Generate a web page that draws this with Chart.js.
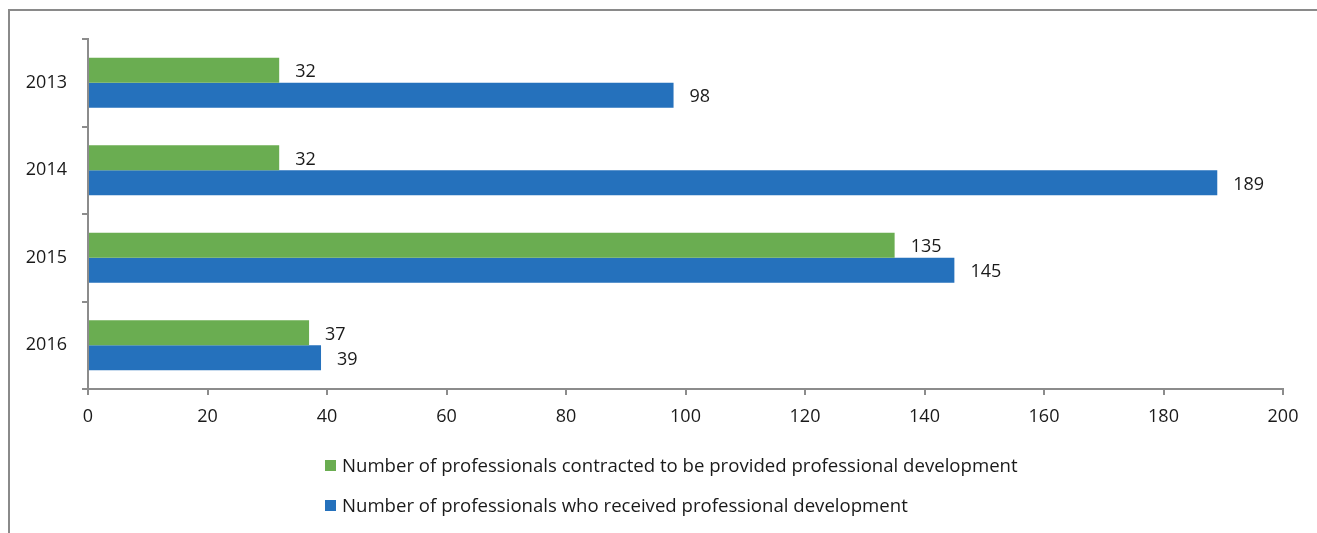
<!DOCTYPE html>
<html>
<head>
<meta charset="utf-8">
<script src="https://cdn.jsdelivr.net/npm/chart.js@4/dist/chart.umd.min.js"></script>
<style>
  html, body { margin: 0; padding: 0; background: #fff; }
  body { width: 1317px; height: 533px; position: relative; overflow: hidden; font-family: "Open Sans", sans-serif; }
  #frame { position: absolute; left: 8px; top: 9px; width: 1400px; height: 600px; border-left: 2px solid #8a8a8a; border-top: 2px solid #8a8a8a; }
  #wrap { position: absolute; left: 0; top: 0; width: 1317px; height: 533px; }
  #legend { position: absolute; left: 325px; top: 452px; font-size: 18.6px; color: #1a1a1a; }
  #legend div { height: 40px; display: flex; align-items: flex-start; }
  #legend span.box { display: inline-block; width: 11px; height: 11px; margin-top: 8px; margin-right: 6px; }
</style>
</head>
<body>
<div id="frame"></div>
<div id="wrap"><canvas id="pdChart"></canvas></div>
<div id="legend"></div>
<script>
// Professional development participation by year
const years = ['2013', '2014', '2015', '2016'];
const contracted = [32, 32, 135, 37];
const received = [98, 189, 145, 39];
const xTicks = [0, 20, 40, 60, 80, 100, 120, 140, 160, 180, 200];

const labelFont = { family: 'Open Sans', size: 18 };
const axisGray = '#8c8c8c';

// value labels to the right of each bar
const barValues = {
    id: 'barValues',
    afterDatasetsDraw(chart) {
        const ctx = chart.ctx;
        ctx.save();
        ctx.font = '18px "Open Sans"';
        ctx.fillStyle = '#1a1a1a';
        ctx.textAlign = 'left';
        ctx.textBaseline = 'middle';
        chart.data.datasets.forEach((ds, i) => {
            chart.getDatasetMeta(i).data.forEach((bar, j) => {
                ctx.fillText(ds.data[j], bar.x + 16, bar.y + 2);
            });
        });
        ctx.restore();
    }
};

const chart = new Chart(document.getElementById('pdChart'), {
    type: 'bar',
    data: {
        labels: years,
        datasets: [
            { label: 'Number of professionals contracted to be provided professional development', data: contracted, backgroundColor: '#6aad51' },
            { label: 'Number of professionals who received professional development', data: received, backgroundColor: '#2571bc' }
        ]
    },
    options: {
        indexAxis: 'y',
        responsive: true,
        maintainAspectRatio: false,
        animation: false,
        categoryPercentage: 0.572,
        barPercentage: 1,
        layout: { padding: { top: 39, right: 34, left: 0, bottom: 99 } },
        plugins: { legend: { display: false }, tooltip: { enabled: false } },
        scales: {
            x: {
                min: 0,
                max: 200,
                afterBuildTicks: axis => { axis.ticks = xTicks.map(v => ({ value: v })); },
                afterFit: axis => { axis.height = 45; },
                grid: { drawOnChartArea: false, drawTicks: true, tickLength: 6, color: axisGray, lineWidth: 2 },
                border: { color: axisGray, width: 2 },
                ticks: { font: labelFont, color: '#1a1a1a', padding: 11, maxRotation: 0 }
            },
            y: {
                afterFit: axis => { axis.width = 88; },
                grid: { drawOnChartArea: false, drawTicks: true, tickLength: 6, color: axisGray, lineWidth: 2, offset: true },
                border: { color: axisGray, width: 2 },
                ticks: { font: labelFont, color: '#1a1a1a', padding: 15 }
            }
        }
    },
    plugins: [barValues]
});

// legend, one entry per line
document.getElementById('legend').innerHTML = chart.data.datasets.map(ds =>
    `<div><span class="box" style="background:${ds.backgroundColor}"></span>${ds.label}</div>`
).join('');
</script>
</body>
</html>
